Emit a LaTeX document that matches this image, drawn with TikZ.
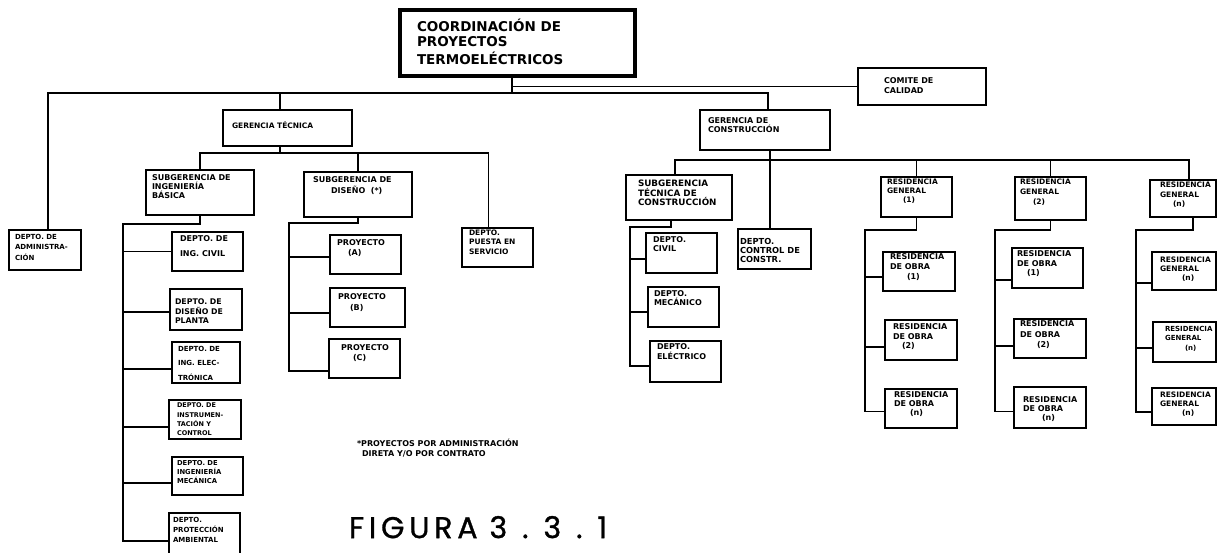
\documentclass[tikz,border=0pt]{standalone}
\usepackage{fontspec}
\setmainfont{DejaVu Sans}
\newfontfamily\figfont{Poppins}[LetterSpace=16, FakeBold=1]
\tikzset{
  bxs/.style={draw, line width=1.4pt, rectangle, inner sep=0pt, outer sep=0pt},
  tx/.style={inner sep=0pt, outer sep=0pt, align=left, anchor=north west},
  ln/.style={line width=1.4pt, line cap=rect},
}
% name, x1, y1, x2, y2, text dx, text dy, {size}{skip}, text
\newcommand\bx[9]{%
  \node[bxs, anchor=north west, minimum width={(#4-#2)*1pt}, minimum height={(#5-#3)*1pt}] (#1) at (#2,#3) {};
  \node[tx, font={\bfseries\fontsize#8\selectfont}] (#1t) at ([xshift=#6pt,yshift=-#7pt]#1.north west) {#9};}
\begin{document}
\begin{tikzpicture}[x=1pt,y=-1pt]
\useasboundingbox (0,0) rectangle (1217,552);
% root
\node[bxs, line width=3.5pt, anchor=north west, minimum width=235pt, minimum height=66pt] (root) at (400,10) {};
\node[tx, font={\bfseries\fontsize{13.5}{15}\selectfont}] (roott) at ([xshift=17pt,yshift=-9pt]root.north west) {COORDINACIÓN DE\\PROYECTOS\\[3pt]TERMOELÉCTRICOS};
% boxes
\bx{com}{858}{68}{986}{105}{26}{10}{{8}{10}}{COMITE DE\\CALIDAD}
\bx{gt}{223}{110}{352}{146}{9}{12}{{7.5}{9}}{GERENCIA TÉCNICA}
\bx{gc}{700}{110}{830}{150}{8}{8}{{8}{9}}{GERENCIA DE\\CONSTRUCCIÓN}
\bx{adm}{9}{230}{81}{270}{6}{4}{{7}{10.5}}{DEPTO. DE\\ADMINISTRA-\\CIÓN}
\bx{sib}{146}{170}{254}{215}{6}{5}{{8}{9}}{SUBGERENCIA DE\\INGENIERÍA\\BÁSICA}
\bx{sd}{304}{172}{412}{217}{9}{5}{{8}{11}}{SUBGERENCIA DE\\\hspace*{18pt}DISEÑO\ \ (*)}
\bx{pes}{462}{228}{533}{267}{7}{1.5}{{7.5}{9.5}}{DEPTO.\\PUESTA EN\\SERVICIO}
\bx{civ}{172}{232}{243}{271}{8}{4}{{8}{15}}{DEPTO. DE\\ING. CIVIL}
\bx{dpl}{170}{289}{242}{330}{5}{10}{{7.8}{9.5}}{DEPTO. DE\\DISEÑO DE\\PLANTA}
\bx{ele}{172}{342}{240}{383}{6}{4}{{7}{14.5}}{DEPTO. DE\\ING. ELEC-\\TRÓNICA}
\bx{ins}{169}{400}{241}{439}{8}{3}{{6.5}{9.3}}{DEPTO. DE\\INSTRUMEN-\\TACIÓN Y\\CONTROL}
\bx{mec}{172}{457}{243}{495}{5}{3}{{6.8}{9}}{DEPTO. DE\\INGENIERÍA\\MECÁNICA}
\bx{pro}{169}{513}{240}{562}{4}{4}{{7}{10}}{DEPTO.\\PROTECCIÓN\\AMBIENTAL}
\bx{pa}{330}{235}{401}{274}{7}{4.5}{{8}{10}}{PROYECTO\\\hspace*{11pt}(A)}
\bx{pb}{330}{288}{405}{327}{8}{6}{{8}{10.5}}{PROYECTO\\\hspace*{12pt}(B)}
\bx{pc}{329}{339}{400}{378}{12}{6}{{8}{9.5}}{PROYECTO\\\hspace*{12pt}(C)}
\bx{stc}{626}{175}{732}{220}{12}{5}{{8.8}{9.5}}{SUBGERENCIA\\TÉCNICA DE\\CONSTRUCCIÓN}
\bx{ctl}{738}{229}{811}{269}{2}{9}{{8.3}{9}}{DEPTO.\\CONTROL DE\\CONSTR.}
\bx{dciv}{646}{233}{717}{273}{7}{4}{{8}{8.5}}{DEPTO.\\CIVIL}
\bx{dmec}{648}{287}{719}{327}{6}{4}{{8}{9}}{DEPTO.\\MECÁNICO}
\bx{dele}{650}{341}{721}{382}{7}{3}{{8}{10}}{DEPTO.\\ELÉCTRICO}
\bx{rg1}{881}{177}{952}{217}{6}{2}{{7.5}{9}}{RESIDENCIA\\GENERAL\\\hspace*{16pt}(1)}
\bx{rg2}{1015}{177}{1086}{220}{5}{2}{{7.5}{10}}{RESIDENCIA\\GENERAL\\\hspace*{13pt}(2)}
\bx{rgn}{1150}{180}{1216}{217}{10}{2}{{7.5}{9.5}}{RESIDENCIA\\GENERAL\\\hspace*{13pt}(n)}
\bx{r11}{883}{252}{955}{291}{7}{2}{{8}{10}}{RESIDENCIA\\DE OBRA\\\hspace*{17pt}(1)}
\bx{r12}{885}{320}{957}{360}{8}{4}{{8}{9.5}}{RESIDENCIA\\DE OBRA\\\hspace*{9pt}(2)}
\bx{r1n}{885}{389}{957}{428}{9}{3}{{8}{9}}{RESIDENCIA\\DE OBRA\\\hspace*{16pt}(n)}
\bx{r21}{1012}{248}{1083}{288}{5}{3}{{8}{9.5}}{RESIDENCIA\\DE OBRA\\\hspace*{10pt}(1)}
\bx{r22}{1014}{319}{1086}{358}{6}{2}{{8}{10.5}}{RESIDENCIA\\DE OBRA\\\hspace*{17pt}(2)}
\bx{r2n}{1014}{387}{1086}{428}{9}{10}{{8}{9}}{RESIDENCIA\\DE OBRA\\\hspace*{19pt}(n)}
\bx{rn1}{1152}{252}{1216}{290}{8}{5}{{7.5}{9}}{RESIDENCIA\\GENERAL\\\hspace*{22pt}(n)}
\bx{rn2}{1153}{322}{1216}{362}{12}{4}{{7}{9.5}}{RESIDENCIA\\GENERAL\\\hspace*{20pt}(n)}
\bx{rnn}{1152}{388}{1216}{425}{8}{4}{{7.5}{9}}{RESIDENCIA\\GENERAL\\\hspace*{22pt}(n)}
% free texts
\node[tx, font={\bfseries\fontsize{8}{10}\selectfont}] (note) at (357,439.5) {*PROYECTOS POR ADMINISTRACIÓN\\\hspace*{5pt}DIRETA Y/O POR CONTRATO};
\node[tx, font={\figfont\fontsize{30}{32}\selectfont}] (fig) at (349,516) {FIGURA\hspace{12pt}3\hspace{15pt}.\hspace{15pt}3\hspace{15pt}.\hspace{15pt}1};
% ---- connectors ----
\coordinate (busM) at (0,93);
\coordinate (rj) at ([xshift=-5.5pt]root.south);
\draw[ln] (rj) |- (com.west);
\draw[ln] (rj) -- (rj |- busM);
\coordinate (aj) at ([xshift=3pt]adm.north);
\coordinate (gcj) at ([xshift=3pt]gc.north);
\coordinate (gtj) at ([xshift=-7.5pt]gt.north);
\draw[ln] (aj) |- (busM -| gcj) -- (gcj);
\draw[ln] (gtj) -- (gtj |- busM);
% gerencia tecnica
\coordinate (busG) at (0,153);
\coordinate (gtb) at ([xshift=-7.5pt]gt.south);
\coordinate (pesj) at ([xshift=-9pt]pes.north);
\draw[ln] (gtb) -- (gtb |- busG);
\draw[ln] (sib.north) |- (busG -| pesj) -- (pesj);
\draw[ln] (sd.north) -- (sd.north |- busG);
% subgerencia ing basica
\coordinate (s1) at (123,224);
\coordinate (civj) at (civ.west);
\coordinate (dplj) at ([yshift=-2.5pt]dpl.west);
\coordinate (elej) at ([yshift=-6.5pt]ele.west);
\coordinate (insj) at ([yshift=-7.5pt]ins.west);
\coordinate (mecj) at ([yshift=-7pt]mec.west);
\coordinate (proj) at ([yshift=-3.5pt]pro.west);
\draw[ln] (sib.south) |- (s1) |- (proj);
\foreach \c in {civj,dplj,elej,insj,mecj} \draw[ln] (s1 |- \c) -- (\c);
% subgerencia diseno
\coordinate (s2) at (289,223);
\coordinate (paj) at ([yshift=-2.5pt]pa.west);
\coordinate (pbj) at ([yshift=-5.5pt]pb.west);
\coordinate (pcj) at ([yshift=-12.5pt]pc.west);
\draw[ln] (sd.south) |- (s2) |- (pcj);
\foreach \c in {paj,pbj} \draw[ln] (s2 |- \c) -- (\c);
% gerencia construccion
\coordinate (busC) at (0,160);
\coordinate (gcb) at ([xshift=5pt]gc.south);
\coordinate (stcj) at ([xshift=-4pt]stc.north);
\coordinate (ctlj) at ([xshift=-4.5pt]ctl.north);
\coordinate (rgnj) at ([xshift=6pt]rgn.north);
\draw[ln] (gcb) -- (gcb |- busC);
\draw[ln] (stcj) |- (busC -| rgnj) -- (rgnj);
\draw[ln] (ctlj) -- (ctlj |- busC);
\draw[ln] (rg1.north) -- (rg1.north |- busC);
\draw[ln] (rg2.north) -- (rg2.north |- busC);
% subgerencia tecnica de construccion
\coordinate (s3) at (630,227);
\coordinate (stcb) at ([xshift=-8pt]stc.south);
\coordinate (dcivj) at ([yshift=-6pt]dciv.west);
\coordinate (dmecj) at ([yshift=-5pt]dmec.west);
\coordinate (delej) at ([yshift=-4.5pt]dele.west);
\draw[ln] (stcb) |- (s3) |- (delej);
\foreach \c in {dcivj,dmecj} \draw[ln] (s3 |- \c) -- (\c);
% residencia general 1
\coordinate (s4) at (865,230);
\coordinate (r11j) at ([yshift=-5.5pt]r11.west);
\coordinate (r12j) at ([yshift=-7pt]r12.west);
\coordinate (r1nj) at ([yshift=-3pt]r1n.west);
\draw[ln] (rg1.south) |- (s4) |- (r1nj);
\foreach \c in {r11j,r12j} \draw[ln] (s4 |- \c) -- (\c);
% residencia general 2
\coordinate (s5) at (995,230);
\coordinate (r21j) at ([yshift=-12pt]r21.west);
\coordinate (r22j) at ([yshift=-7.5pt]r22.west);
\coordinate (r2nj) at ([yshift=-4pt]r2n.west);
\draw[ln] (rg2.south) |- (s5) |- (r2nj);
\foreach \c in {r21j,r22j} \draw[ln] (s5 |- \c) -- (\c);
% residencia general n
\coordinate (s6) at (1136,230);
\coordinate (rgnb) at ([xshift=10pt]rgn.south);
\coordinate (rn1j) at ([yshift=-12pt]rn1.west);
\coordinate (rn2j) at ([yshift=-6pt]rn2.west);
\coordinate (rnnj) at ([yshift=-5.5pt]rnn.west);
\draw[ln] (rgnb) |- (s6) |- (rnnj);
\foreach \c in {rn1j,rn2j} \draw[ln] (s6 |- \c) -- (\c);
\end{tikzpicture}
\end{document}
